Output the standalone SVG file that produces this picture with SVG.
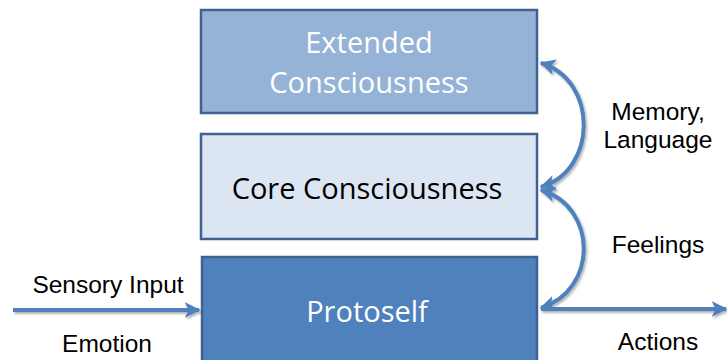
<svg xmlns="http://www.w3.org/2000/svg" width="727" height="360" viewBox="0 0 727 360">
<style>
.box{stroke:#3F628F;stroke-width:2.5}
.big{font-family:"Open Sans","Liberation Sans",sans-serif;font-size:29px;text-anchor:middle}
.lbl{font-family:"Liberation Sans",Arial,sans-serif;font-size:24.5px;fill:#000;text-anchor:middle}
.conn{fill:none;stroke:#4F81BD;stroke-width:4}
</style>
<defs>
<marker id="ah" viewBox="0 0 10 10" refX="9" refY="5" markerWidth="4" markerHeight="4" orient="auto-start-reverse" markerUnits="strokeWidth">
<path d="M0,0 L10,5 L0,10 L2.5,5 Z" fill="#4F81BD"/>
</marker>
<filter id="sh" filterUnits="userSpaceOnUse" x="0" y="0" width="727" height="360">
<feDropShadow dx="1.5" dy="2" stdDeviation="1.2" flood-color="#000" flood-opacity="0.3"/>
</filter>
</defs>
<g id="extended">
<rect class="box" x="201" y="10" width="336" height="103" fill="#95B3D7"/>
<text class="big" x="369" y="53" fill="#FFFFFF">Extended</text>
<text class="big" x="369" y="93" fill="#FFFFFF">Consciousness</text>
</g>
<g id="core">
<rect class="box" x="201" y="134" width="336" height="105" fill="#DCE6F2"/>
<text class="big" x="367" y="199" fill="#000000">Core Consciousness</text>
</g>
<g id="protoself">
<rect class="box" x="202" y="257" width="335" height="120" fill="#4F81BD"/>
<text class="big" x="367" y="322" fill="#FFFFFF">Protoself</text>
</g>
<g id="connectors" filter="url(#sh)">
<path class="conn" d="M13,310 L199,310" marker-end="url(#ah)"/>
<path class="conn" d="M541,63 C598,80 598,170 541,187" marker-start="url(#ah)" marker-end="url(#ah)"/>
<path class="conn" d="M541,190 C598,207 598,290 541,308" marker-start="url(#ah)" marker-end="url(#ah)"/>
<path class="conn" d="M541,309 L726,309" marker-end="url(#ah)"/>
</g>
<g id="labels">
<text class="lbl" x="108" y="293">Sensory Input</text>
<text class="lbl" x="107" y="352">Emotion</text>
<text class="lbl" x="658" y="120">Memory,</text>
<text class="lbl" x="658" y="148">Language</text>
<text class="lbl" x="658" y="253">Feelings</text>
<text class="lbl" x="658" y="350">Actions</text>
</g>
</svg>
